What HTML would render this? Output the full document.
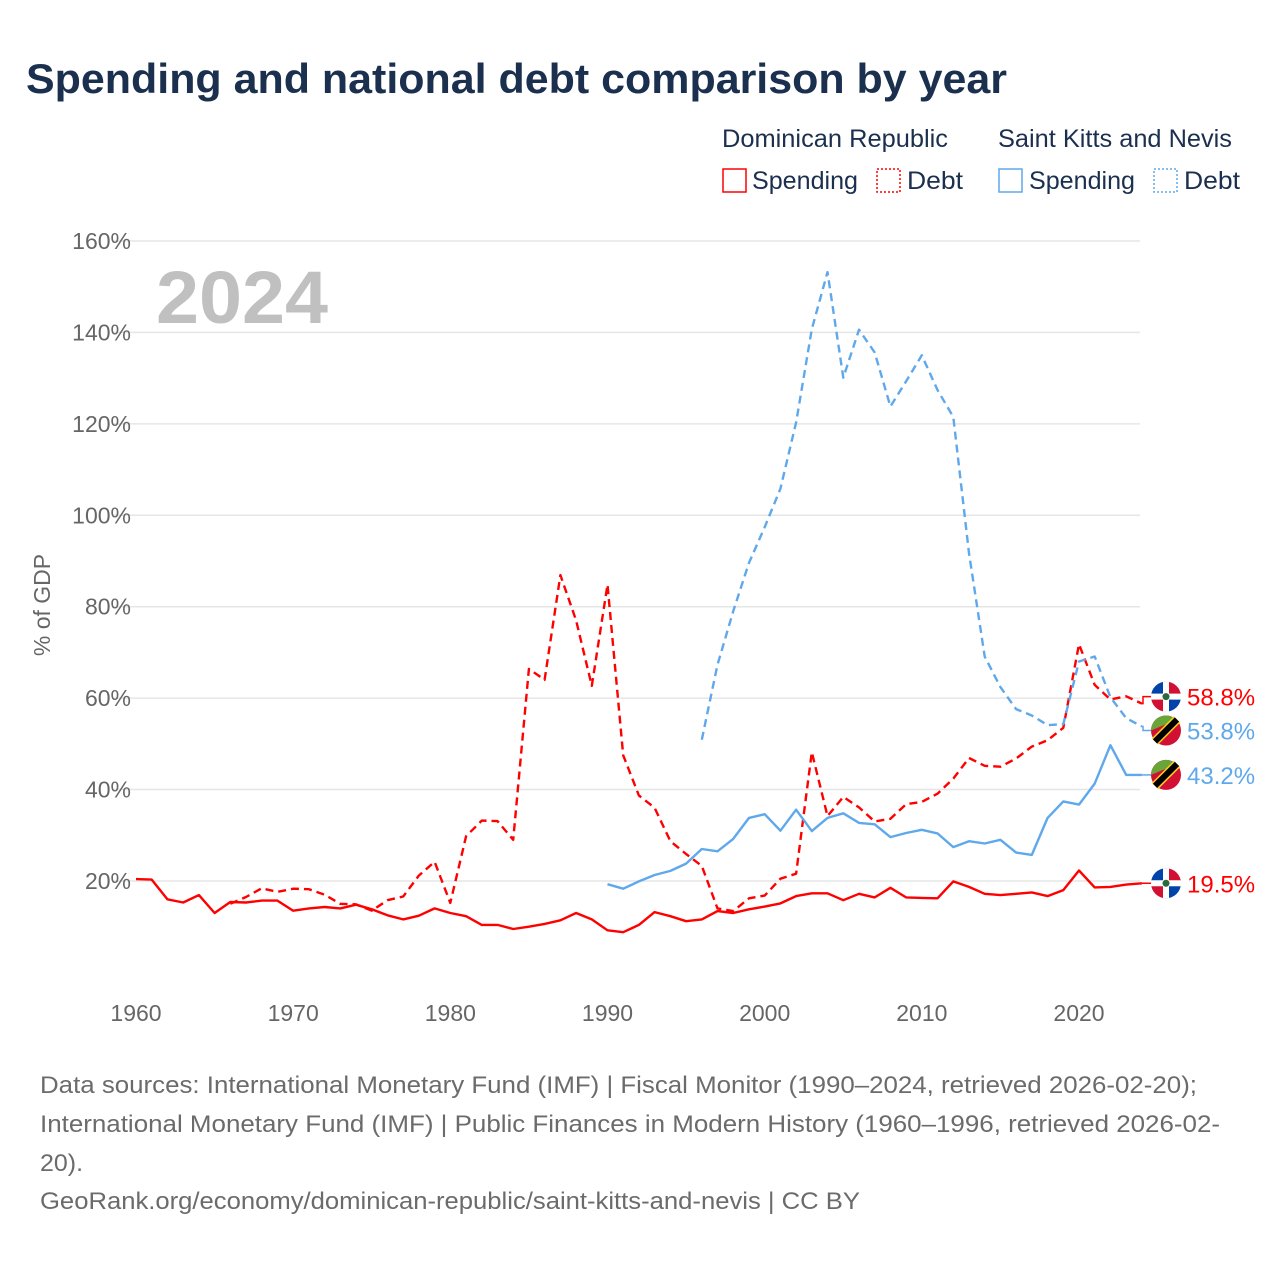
<!DOCTYPE html>
<html><head><meta charset="utf-8"><style>
body{margin:0;background:#fff;font-family:"Liberation Sans",sans-serif;}
</style></head><body>
<svg width="1280" height="1280" xmlns="http://www.w3.org/2000/svg" font-family="Liberation Sans, sans-serif">
<text x="26" y="93" font-size="42" font-weight="bold" fill="#1b2f4e" textLength="981" lengthAdjust="spacingAndGlyphs">Spending and national debt comparison by year</text>
<g font-size="25" fill="#1b2f4e">
<text x="722" y="147" textLength="226" lengthAdjust="spacingAndGlyphs">Dominican Republic</text>
<text x="998" y="147" textLength="234" lengthAdjust="spacingAndGlyphs">Saint Kitts and Nevis</text>
<g><rect x="723" y="169" width="23" height="23" fill="none" stroke="#ff0000" stroke-width="1.5"/><text x="752" y="189" textLength="106" lengthAdjust="spacingAndGlyphs">Spending</text></g>
<g><rect x="877" y="169" width="23" height="23" fill="none" stroke="#ff0000" stroke-width="1.5" stroke-dasharray="2,2"/><text x="907" y="189" textLength="56" lengthAdjust="spacingAndGlyphs">Debt</text></g>
<g><rect x="999" y="169" width="23" height="23" fill="none" stroke="#5fa8ec" stroke-width="1.5"/><text x="1029" y="189" textLength="106" lengthAdjust="spacingAndGlyphs">Spending</text></g>
<g><rect x="1154" y="169" width="23" height="23" fill="none" stroke="#5fa8ec" stroke-width="1.5" stroke-dasharray="2,2"/><text x="1184" y="189" textLength="56" lengthAdjust="spacingAndGlyphs">Debt</text></g>
</g>
<text x="156" y="323" font-size="74" font-weight="bold" fill="#c0c0c0" textLength="172" lengthAdjust="spacingAndGlyphs">2024</text>
<text transform="translate(50,605) rotate(-90)" text-anchor="middle" font-size="23" fill="#666">% of GDP</text>
<g id="grid"></g>
<g id="yticks" font-size="23" fill="#666" text-anchor="end"></g>
<g id="xticks" font-size="23" fill="#666" text-anchor="middle"></g>
<g id="series"></g>
<g id="ends"></g>
<g font-size="24" fill="#6b6b6b">
<text x="40" y="1093" textLength="1157" lengthAdjust="spacingAndGlyphs">Data sources: International Monetary Fund (IMF) | Fiscal Monitor (1990–2024, retrieved 2026-02-20);</text>
<text x="40" y="1132" textLength="1180" lengthAdjust="spacingAndGlyphs">International Monetary Fund (IMF) | Public Finances in Modern History (1960–1996, retrieved 2026-02-</text>
<text x="40" y="1171" textLength="43" lengthAdjust="spacingAndGlyphs">20).</text>
<text x="40" y="1209" textLength="820" lengthAdjust="spacingAndGlyphs">GeoRank.org/economy/dominican-republic/saint-kitts-and-nevis | CC BY</text>
</g>
</svg>
<script>
const yTicks=[20,40,60,80,100,120,140,160];
const xTicks=[1960,1970,1980,1990,2000,2010,2020];
const drSpendStart=1960;
const drSpending=[20.4,20.3,16,15.3,16.9,13,15.4,15.3,15.7,15.7,13.5,14,14.3,14,14.8,13.8,12.5,11.6,12.4,14,13,12.3,10.4,10.4,9.5,10,10.6,11.4,13,11.6,9.2,8.8,10.4,13.2,12.3,11.2,11.6,13.4,13,13.8,14.4,15.1,16.7,17.3,17.3,15.8,17.2,16.4,18.5,16.4,16.3,16.2,19.9,18.7,17.2,16.9,17.2,17.5,16.7,18,22.3,18.6,18.7,19.2,19.5];
const drDebtStart=1966;
const drDebt=[15,16.5,18.4,17.6,18.3,18.2,17,15,14.9,13.5,15.8,16.6,21.2,24.2,15.2,29.8,33.2,33.1,29,66.4,64,86.9,77,62.7,84.8,47.5,38.7,36,28.7,25.9,23.3,14,13.4,16.2,16.8,20.5,21.6,48.2,34.2,38.4,36.1,33,33.6,36.8,37.3,39.1,42.4,46.9,45.2,45,46.8,49.4,50.8,53.5,71.8,62.9,59.7,60.4,58.8];
const sknSpendStart=1990;
const sknSpending=[19.3,18.3,19.9,21.3,22.2,23.8,27,26.5,29.2,33.8,34.6,31,35.6,30.9,33.8,34.8,32.7,32.4,29.6,30.5,31.2,30.4,27.4,28.7,28.2,29,26.2,25.7,33.8,37.4,36.7,41.3,49.7,43.2,43.2];
const sknDebtStart=1996;
const sknDebt=[50.9,67.3,79,89.6,97.4,105.8,120.3,140.7,153.2,130.1,140.6,135.6,123.8,129.3,135,127.4,121.5,91.7,69.1,62.4,57.6,56.2,54.1,54.3,68,69.1,60.2,55.6,53.8];

const NS='http://www.w3.org/2000/svg';
const X=yr=>136+(yr-1960)*(943/60);
const Y=v=>972.4-v*4.5714;
function mk(t,a,p){const e=document.createElementNS(NS,t);for(const k in a)e.setAttribute(k,a[k]);p.appendChild(e);return e;}
const grid=document.getElementById('grid'),yt=document.getElementById('yticks'),xt=document.getElementById('xticks');
yTicks.forEach(v=>{
 const l=mk('line',{x1:113,x2:1140,y1:Y(v),y2:Y(v),stroke:'#e6e6e6','stroke-width':1.5},grid);
 
 
 const t=mk('text',{x:131,y:Y(v)+8},yt);t.textContent=v+'%';
 
 
});
xTicks.forEach(yr=>{
 const t=mk('text',{x:X(yr),y:1021},xt);t.textContent=yr;
 
 
});
const ser=document.getElementById('series');
function line(arr,start,color,dash,name){
 const pts=arr.map((v,i)=>X(start+i).toFixed(1)+','+Y(v).toFixed(1)).join(' ');
 const p=mk('polyline',{points:pts,fill:'none',stroke:color,'stroke-width':2.4,'stroke-linejoin':'round'},ser);
 if(dash)p.setAttribute('stroke-dasharray','8,5');
 
 
}
const RED='#ff0000',BLUE='#5fa8ec';
line(drSpending,drSpendStart,RED,false,'dr-spending-line');
line(drDebt,drDebtStart,RED,true,'dr-debt-line');
line(sknSpending,sknSpendStart,BLUE,false,'skn-spending-line');
line(sknDebt,sknDebtStart,BLUE,true,'skn-debt-line');
const ends=document.getElementById('ends');
function endLabel(v,color,flag,name,shift,dash){
 const y0=Y(v), y=y0+shift;
 const g=mk('g',{},ends);
 
 
 const c=mk('polyline',{points:`${X(2024)},${y0} 1143,${y0} 1143,${y} 1151,${y}`,fill:'none',stroke:color,'stroke-width':1.5},g);
 if(flag==='dr'){
  mk('circle',{cx:1166,cy:y,r:15,fill:'#fff'},g);
  mk('path',{d:`M1151,${y} A15,15 0 0 1 1166,${y-15} L1166,${y} Z`,fill:'#0044aa'},g);
  mk('path',{d:`M1166,${y-15} A15,15 0 0 1 1181,${y} L1166,${y} Z`,fill:'#d21034'},g);
  mk('path',{d:`M1151,${y} A15,15 0 0 0 1166,${y+15} L1166,${y} Z`,fill:'#d21034'},g);
  mk('path',{d:`M1166,${y+15} A15,15 0 0 0 1181,${y} L1166,${y} Z`,fill:'#0044aa'},g);
  mk('rect',{x:1163,y:y-15,width:6,height:30,fill:'#fff'},g);
  mk('rect',{x:1151,y:y-3,width:30,height:6,fill:'#fff'},g);
  mk('circle',{cx:1166,cy:y,r:3.5,fill:'#2a6a3a'},g);
 }else{
  mk('circle',{cx:1166,cy:y,r:15,fill:'#d21034'},g);
  mk('path',{d:`M1151,${y} A15,15 0 0 1 1176.6,${y-10.6} Z`,fill:'#6aa53a'},g);
  mk('line',{x1:1155,y1:y+11,x2:1177,y2:y-11,stroke:'#fcd116','stroke-width':9},g);
  mk('line',{x1:1155,y1:y+11,x2:1177,y2:y-11,stroke:'#000','stroke-width':6},g);
 }
 const t=mk('text',{x:1187,y:y+9,'font-size':24,fill:color},g);
 t.textContent=v.toFixed(1)+'%';
}
endLabel(drDebt[drDebt.length-1],RED,'dr','end-label-dr-debt',-7);
endLabel(sknDebt[sknDebt.length-1],BLUE,'skn','end-label-skn-debt',4);
endLabel(sknSpending[sknSpending.length-1],BLUE,'skn','end-label-skn-spending',0);
endLabel(drSpending[drSpending.length-1],RED,'dr','end-label-dr-spending',0);
</script>
</body></html>
